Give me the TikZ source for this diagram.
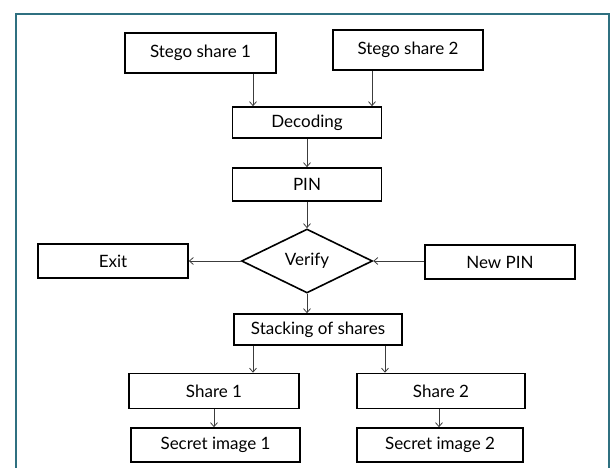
\documentclass[tikz,border=0pt]{standalone}
\usepackage{fontspec}
\setmainfont{Lato}
\usetikzlibrary{shapes.geometric,arrows.meta}
\definecolor{frame}{RGB}{47,112,128}
\definecolor{conn}{RGB}{60,60,60}
\begin{document}
\begin{tikzpicture}[x=1pt,y=-1pt,
  box/.style={draw=black,line width=1.6pt,rectangle,inner sep=0pt,font=\fontsize{17pt}{19pt}\selectfont},
  dia/.style={draw=black,line width=1.6pt,diamond,inner sep=0pt,font=\fontsize{17pt}{19pt}\selectfont},
  arr/.style={draw=conn,line width=0.8pt,-{Straight Barb[length=4pt,width=7pt]}}]
\useasboundingbox (0,0) rectangle (614,468);
\draw[frame,line width=2.5pt] (16,472) -- (16,14) -- (609,14) -- (609,472);
\node[box,minimum width=151pt,minimum height=40pt] (s1) at (200.5,53) {Stego share 1};
\node[box,minimum width=150pt,minimum height=40pt] (s2) at (408,50) {Stego share 2};
\node[box,minimum width=149pt,minimum height=31pt] (dec) at (307,122.5) {Decoding};
\node[box,minimum width=149pt,minimum height=33pt] (pin) at (307,184.5) {PIN};
\node[dia,minimum width=131pt,minimum height=64pt] (ver) at (307,261) {Verify};
\node[box,minimum width=150pt,minimum height=34pt] (exit) at (113,261) {Exit};
\node[box,minimum width=150pt,minimum height=34pt] (np) at (500,262) {New PIN};
\node[box,minimum width=168pt,minimum height=31pt] (st) at (318,329.5) {Stacking of shares};
\node[box,minimum width=170pt,minimum height=35pt] (sh1) at (214,391) {Share 1};
\node[box,minimum width=168pt,minimum height=35pt] (sh2) at (441,391) {Share 2};
\node[box,minimum width=169pt,minimum height=34pt] (sc1) at (215.5,445) {Secret image 1};
\node[box,minimum width=166pt,minimum height=34pt] (sc2) at (440,445) {Secret image 2};
\draw[arr] ([xshift=52.5pt]s1.south) coordinate (a1) -- (a1 |- dec.north);
\draw[arr] ([xshift=-36pt]s2.south) coordinate (a2) -- (a2 |- dec.north);
\draw[arr] (dec.south) -- (dec.south |- pin.north);
\draw[arr] (pin.south) -- (ver.north);
\draw[arr] (ver.west) -- (ver.west -| exit.east);
\draw[arr] (np.west |- ver.east) -- (ver.east);
\draw[arr] (ver.south) -- (ver.south |- st.north);
\draw[arr] ([xshift=-65pt]st.south) coordinate (a3) -- (a3 |- sh1.north);
\draw[arr] ([xshift=67pt]st.south) coordinate (a4) -- (a4 |- sh2.north);
\draw[arr] (sh1.south) -- (sh1.south |- sc1.north);
\draw[arr] ([xshift=-2pt]sh2.south) coordinate (a5) -- (a5 |- sc2.north);
\end{tikzpicture}
\end{document}
